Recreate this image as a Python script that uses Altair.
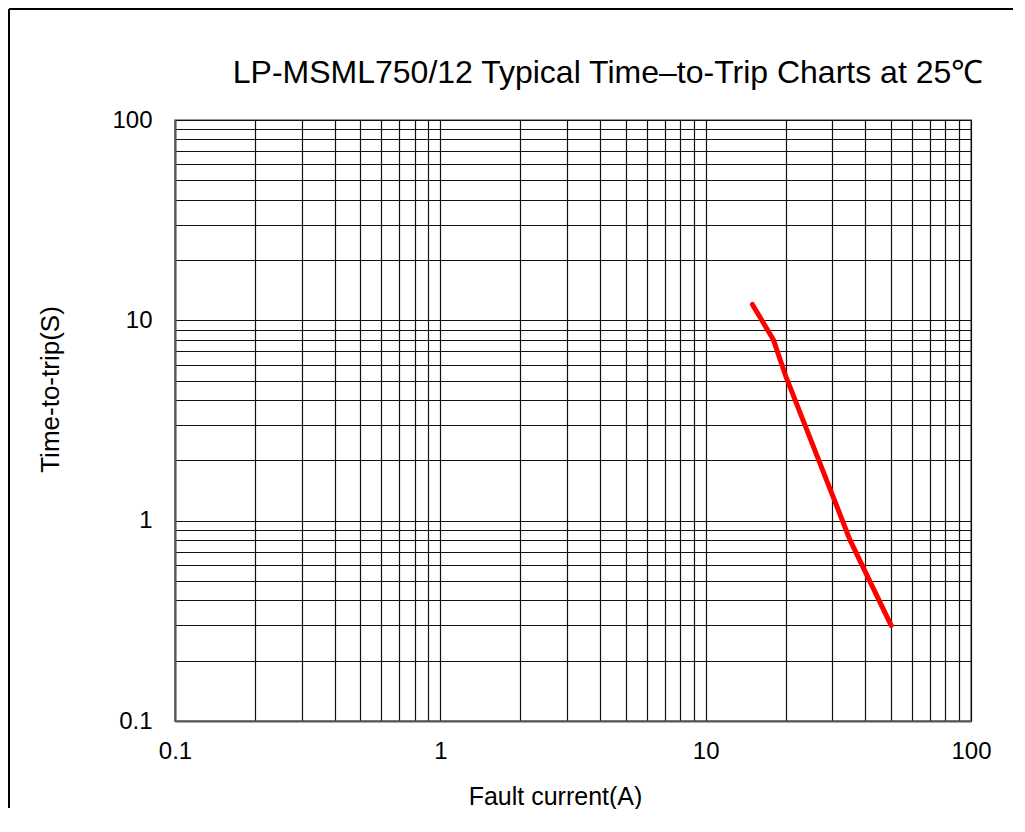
import altair as alt
import pandas as pd

# ---- data ----
fault_current = [15, 18, 20, 30, 35, 50]          # A
time_to_trip = [12, 8, 5.3, 1.35, 0.8, 0.3]       # s

decade_ticks = [0.1, 1, 10, 100]
grid_values = [0.1, 0.2, 0.3, 0.4, 0.5, 0.6, 0.7, 0.8, 0.9,
               1, 2, 3, 4, 5, 6, 7, 8, 9,
               10, 20, 30, 40, 50, 60, 70, 80, 90, 100]

TITLE = "LP-MSML750/12 Typical Time\u2013to-Trip Charts at 25\u2103"
X_TITLE = "Fault current(A)"
Y_TITLE = "Time-to-trip(S)"

FONT = "Liberation Sans"
W, H = 796, 601
PAD = {"left": 167, "top": 112, "right": 46, "bottom": 88}

df = pd.DataFrame({"current": fault_current, "time": time_to_trip})

label_expr = ("abs(log(datum.value)/LN10 - round(log(datum.value)/LN10)) < 1e-6 "
              "? format(datum.value, '~g') : ''")

x_enc = alt.X(
    "current:Q",
    scale=alt.Scale(type="log", domain=[decade_ticks[0], decade_ticks[-1]], nice=False),
    axis=alt.Axis(
        values=grid_values, labelExpr=label_expr, labelOverlap=False,
        labelFlush=False, labelBound=False,
        labelFontSize=24, labelPadding=18, labelFont=FONT, labelColor="#000",
        ticks=False, tickSize=0, grid=True, gridColor="#111", gridWidth=1.2,
        domainColor="#555", domainWidth=2,
        title=X_TITLE, titleFontSize=25, titleFont=FONT, titleFontWeight="normal",
        titleColor="#000", titleX=380, titleY=83, titleBaseline="alphabetic",
    ),
)
y_enc = alt.Y(
    "time:Q",
    scale=alt.Scale(type="log", domain=[decade_ticks[0], decade_ticks[-1]], nice=False),
    axis=alt.Axis(
        values=grid_values, labelExpr=label_expr, labelOverlap=False,
        labelFlush=False, labelBound=False,
        labelFontSize=24, labelPadding=23, labelFont=FONT, labelColor="#000",
        ticks=False, tickSize=0, grid=True, gridColor="#111", gridWidth=1.2,
        domainColor="#555", domainWidth=2,
        title=Y_TITLE, titleFontSize=26, titleFont=FONT, titleFontWeight="normal",
        titleColor="#000", titleX=-117, titleY=269, titleBaseline="alphabetic",
        titleAngle=270,
    ),
)

one = pd.DataFrame({"a": [0]})
frame_top = alt.Chart(one).mark_rule(stroke="#000", strokeWidth=2).encode(
    x=alt.value(-166), x2=alt.value(W + PAD["right"] - 4), y=alt.value(-111)
)
frame_left = alt.Chart(one).mark_rule(stroke="#000", strokeWidth=2).encode(
    x=alt.value(-166), y=alt.value(-111), y2=alt.value(H + PAD["bottom"] - 1)
)

line = alt.Chart(df).mark_line(
    color="#FF0000", strokeWidth=5, strokeCap="round", strokeJoin="round"
).encode(x=x_enc, y=y_enc)

title = alt.Chart(pd.DataFrame({"t": [TITLE]})).mark_text(
    fontSize=32, font=FONT, baseline="alphabetic", align="center", color="#000"
).encode(text="t:N", x=alt.value(433), y=alt.value(-37))

chart = alt.layer(frame_top, frame_left, line, title).properties(
    width=W, height=H,
    autosize=alt.AutoSizeParams(type="none"),
    padding=PAD,
    background="#ffffff",
).configure_view(stroke="#999", strokeWidth=2)

chart.save("out.html", embed_options={"renderer": "svg", "actions": False})
